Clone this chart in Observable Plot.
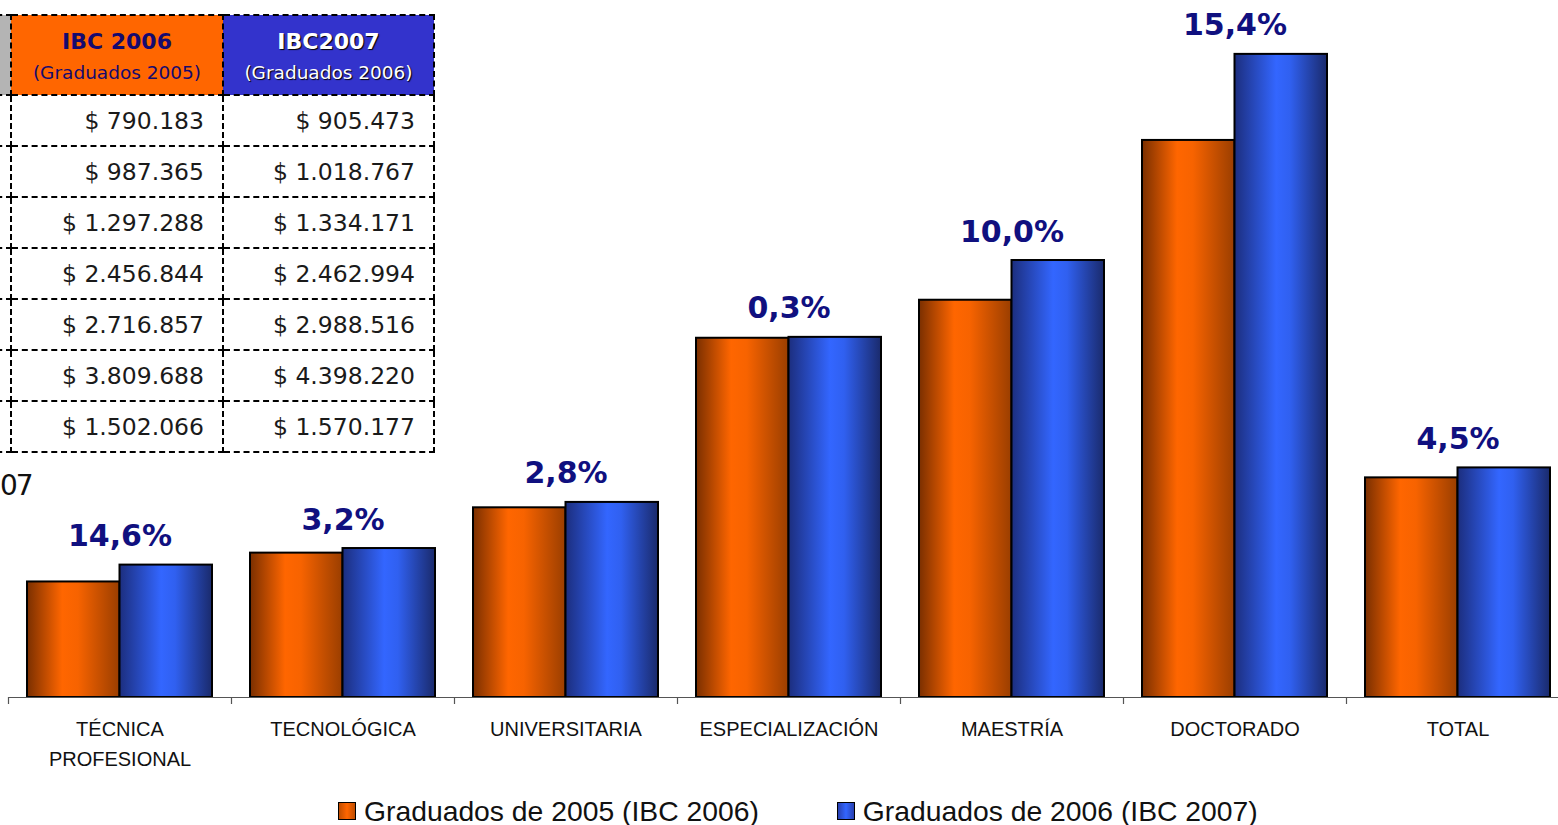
<!DOCTYPE html>
<html>
<head>
<meta charset="utf-8">
<script src="https://cdn.jsdelivr.net/npm/d3@7"></script>
<script src="https://cdn.jsdelivr.net/npm/@observablehq/plot@0.6"></script>
<style>
  html, body { margin: 0; padding: 0; background: #fff; overflow: hidden; }
  #wrap { position: relative; width: 1558px; height: 825px; overflow: hidden; }
  #chart { position: absolute; left: 0; top: 0; }
  #cut { position: absolute; left: 0px; top: 469px; font: 28px "DejaVu Sans", Verdana, sans-serif; color: #111; white-space: nowrap; letter-spacing: -2px; }
  table.ibc { position: absolute; left: -190px; top: 14px; border-collapse: collapse; table-layout: fixed; font-family: "DejaVu Sans", Verdana, sans-serif; }
  table.ibc td, table.ibc th { border: 2px dashed #000; padding: 0; }
  table.ibc th { height: 75px; padding-top: 3px; font-weight: normal; text-align: center; line-height: 1.55; }
  table.ibc td { height: 49px; font-size: 23.5px; color: #1a1a1a; text-align: right; padding-right: 18px; }
  table.ibc th.c0 { background: #b4b4b4; }
  table.ibc th.c1 { background: #ff6600; color: #150a6e; }
  table.ibc th.c2 { background: #3333cc; color: #fff; text-shadow: 1px 1px 1px #000; }
  table.ibc th b { font-size: 22px; font-weight: bold; }
  table.ibc th span { font-size: 18.5px; }
  #legend { position: absolute; left: 338px; top: 792px; height: 38px; display: flex; justify-content: flex-start; align-items: center; gap: 78px; font: 28.3px "Liberation Sans", Arial, sans-serif; color: #111; white-space: nowrap; }
  #legend .item { display: flex; align-items: center; gap: 8px; }
  #legend .sw { width: 16px; height: 16px; border: 1.5px solid #000; }
</style>
</head>
<body>
<div id="wrap">
  <div id="chart"></div>
  <div id="cut">07</div>
  <table class="ibc" id="tbl"></table>
  <div id="legend"></div>
</div>
<script>
// ---- data ----
const categories = ["TÉCNICA\nPROFESIONAL", "TECNOLÓGICA", "UNIVERSITARIA", "ESPECIALIZACIÓN", "MAESTRÍA", "DOCTORADO", "TOTAL"];
const ibc2006 = [790183, 987365, 1297288, 2456844, 2716857, 3809688, 1502066];
const ibc2007 = [905473, 1018767, 1334171, 2462994, 2988516, 4398220, 1570177];
const changeLabels = ["14,6%", "3,2%", "2,8%", "0,3%", "10,0%", "15,4%", "4,5%"];
const seriesNames = ["Graduados de 2005 (IBC 2006)", "Graduados de 2006 (IBC 2007)"];
const tableHeaders = [["IBC 2006", "(Graduados 2005)"], ["IBC2007", "(Graduados 2006)"]];

const rows = categories.map((c, i) => ({cat: c, a: ibc2006[i], b: ibc2007[i], pct: changeLabels[i]}));
const fmt = v => "$ " + d3.format(",")(v).replace(/,/g, ".");

const bandW = (1569 - 8) / categories.length;
const half = bandW / 2;

const chart = Plot.plot({
  width: 1558,
  height: 790,
  marginLeft: 8,
  marginRight: 0,
  marginTop: 0,
  marginBottom: 0,
  x: {type: "band", domain: categories, range: [8, 1569], padding: 0, axis: null},
  y: {domain: [0, 4500000], range: [697, 39], axis: null},
  style: {background: "transparent", overflow: "visible"},
  marks: [
    Plot.barY(rows, {x: "cat", y: "a", fill: "url(#gOrange)", stroke: "#000", strokeWidth: 2, insetLeft: 19, insetRight: half}),
    Plot.barY(rows, {x: "cat", y: "b", fill: "url(#gBlue)", stroke: "#000", strokeWidth: 2, insetLeft: half, insetRight: 19}),
    Plot.ruleY([0], {stroke: "#555", strokeWidth: 1.2}),
    Plot.ruleX(rows, {x: "cat", y1: d => 0, y2: d => 0, insetBottom: -7, dx: -half, stroke: "#555", strokeWidth: 1.2}),
    Plot.text(rows, {x: "cat", y: d => 0, text: "cat", lineAnchor: "top", dy: 17, lineHeight: 1.5,
      fontFamily: "Liberation Sans, Arial, sans-serif", fontSize: 20, fill: "#111", letterSpacing: "-0.6px"}),
    Plot.text(rows, {x: "cat", y: "b", text: "pct", lineAnchor: "bottom", dy: -19,
      fontFamily: "DejaVu Sans, Verdana, sans-serif", fontWeight: "bold", fontSize: 30, fill: "#10107f"})
  ]
});

const svg = d3.select(chart);
const defs = svg.insert("defs", ":first-child");
function grad(id, stops) {
  const g = defs.append("linearGradient").attr("id", id).attr("x1", 0).attr("x2", 1).attr("y1", 0).attr("y2", 0);
  stops.forEach(([o, c]) => g.append("stop").attr("offset", o).attr("stop-color", c));
}
grad("gOrange", [[0, "#7a2f00"], [0.38, "#ff6600"], [0.55, "#f76300"], [1, "#9a3e00"]]);
grad("gBlue", [[0, "#1c2e7e"], [0.45, "#3366ff"], [0.6, "#3060f0"], [1, "#1a2a6c"]]);
document.getElementById("chart").appendChild(chart);

// table
const tbl = d3.select("#tbl");
const cg = tbl.append("colgroup");
[200, 212, 211].forEach(w => cg.append("col").style("width", w + "px"));
const hr = tbl.append("tr");
hr.append("th").attr("class", "c0");
tableHeaders.forEach((h, j) => {
  const th = hr.append("th").attr("class", "c" + (j + 1));
  th.append("b").text(h[0]);
  th.append("br");
  th.append("span").text(h[1]);
});
rows.forEach(r => {
  const tr = tbl.append("tr");
  tr.append("td");
  tr.append("td").text(fmt(r.a));
  tr.append("td").text(fmt(r.b));
});

// legend
const lg = d3.select("#legend");
const swatchFill = ["linear-gradient(90deg,#c04d00,#ff6600 50%,#c04d00)", "linear-gradient(90deg,#2840b0,#3366ff 50%,#2840b0)"];
seriesNames.forEach((s, i) => {
  const it = lg.append("div").attr("class", "item");
  it.append("div").attr("class", "sw").style("background", swatchFill[i]);
  it.append("span").text(s);
});
</script>
</body>
</html>
